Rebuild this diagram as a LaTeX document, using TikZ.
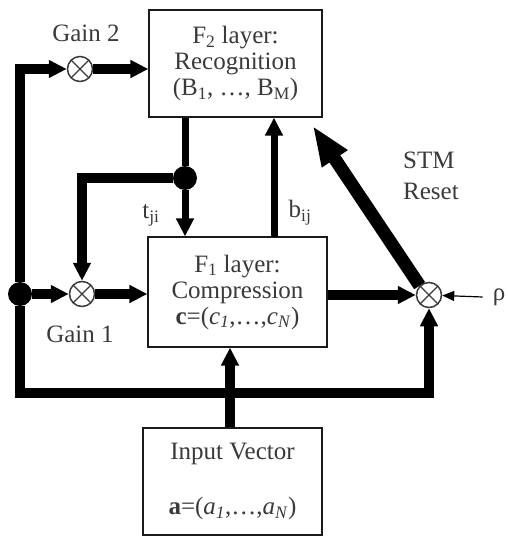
\documentclass[tikz,border=0pt]{standalone}
\usepackage{fontspec}
\setmainfont{Liberation Serif}
\usepackage{tikz}
\usetikzlibrary{arrows.meta, positioning}
\definecolor{ink}{HTML}{1A1A1A}
\definecolor{txt}{HTML}{3A3A3A}
\tikzset{
	layer/.style={draw=ink, line width=1.2pt, fill=white, text=txt,
		align=center, inner sep=2pt, font=\fontsize{25}{26}\selectfont},
	mult/.style={circle, draw=txt, line width=1.5pt, minimum size=25pt,
		inner sep=0pt, fill=white,
		path picture={\draw[txt, line width=1.3pt]
			(path picture bounding box.north west) -- (path picture bounding box.south east)
			(path picture bounding box.north east) -- (path picture bounding box.south west);}},
	junc/.style={circle, fill=black, minimum size=24pt, inner sep=0pt},
	lbl/.style={text=txt, font=\fontsize{25}{31}\selectfont, inner sep=1pt},
	bus/.style={line width=10pt, black},
	wire/.style={line width=7pt, black},
	arr/.style={-{Triangle[length=18pt,width=17pt]}},
	bigarr/.style={line width=13pt, black, -{Triangle[length=40pt,width=28pt]}},
	thinarr/.style={line width=1.2pt, black, -{Triangle[length=12pt,width=10pt]}},
}
\begin{document}
\begin{tikzpicture}[x=1pt, y=-1pt]
	\useasboundingbox (0,0) rectangle (507,536);
	\node[layer, minimum width=173pt, minimum height=107pt] (f2) at (235.5,63.5)
	{F\textsubscript{2} layer:\\Recognition\\(B\textsubscript{1}, …, B\textsubscript{M})};
	\node[layer, minimum width=179pt, minimum height=110pt] (f1) at (237.5,292)
	{F\textsubscript{1} layer:\\Compression\\\textbf{c}=(\textit{c}\textsubscript{\textit{1}},…,\textit{c}\textsubscript{\textit{N}})};
	\node[layer, minimum width=179pt, minimum height=107pt] (inp) at (232.5,481.5)
	{Input Vector\\[29pt]\textbf{a}=(\textit{a}\textsubscript{\textit{1}},…,\textit{a}\textsubscript{\textit{N}})};
	\node[mult] (g2) at (80,69) {};
	\node[mult] (g1) at (82,294) {};
	\node[mult] (rst) at (429,295) {};
	\node[junc] (dotL) at (20,294) {};
	\node[junc] (dotT) at (185,178) {};
	\coordinate (tap) at (230,393);
	\coordinate (bij) at (274,237);
	\node[lbl, above=12.5pt of g2, xshift=6pt] (g2lbl) {Gain 2};
	\node[lbl, below=17.5pt of g1, xshift=-2pt] (g1lbl) {Gain 1};
	\node[lbl, align=left, anchor=north west] (stm) at (402,151) {STM\\Reset};
	\node[lbl] (tji) at (151,215) {t\textsubscript{ji}};
	\node[lbl] (bijlbl) at (300,213) {b\textsubscript{ij}};
	\node[lbl, inner sep=0pt] (rho) at (499,297) {ρ};
	\draw[bus, arr] (dotL) |- (g2);
	\draw[bus, arr] (g2) -- (g2 -| f2.west);
	\draw[bus, arr] (dotL) -- (g1);
	\draw[bus, arr] (g1) -- (g1 -| f1.west);
	\draw[bus, arr] (dotL) |- (tap) -| (rst.south);
	\draw[bus, arr] (inp.north -| tap) -- (tap |- f1.south);
	\draw[bus, arr] (f1.east |- rst) -- (rst);
	\draw[wire] (f2.south -| dotT) -- (dotT);
	\draw[wire, arr] (dotT) -- (dotT |- f1.north);
	\draw[bus, arr] (dotT) -| (g1);
	\draw[wire, arr] (bij) -- (bij |- f2.south);
	\draw[bigarr] (rst.north west) -- ([xshift=-10pt, yshift=-8pt]f2.south east);
	\draw[thinarr] ([xshift=-10pt]rho.west) -- (rst);
\end{tikzpicture}
\end{document}
